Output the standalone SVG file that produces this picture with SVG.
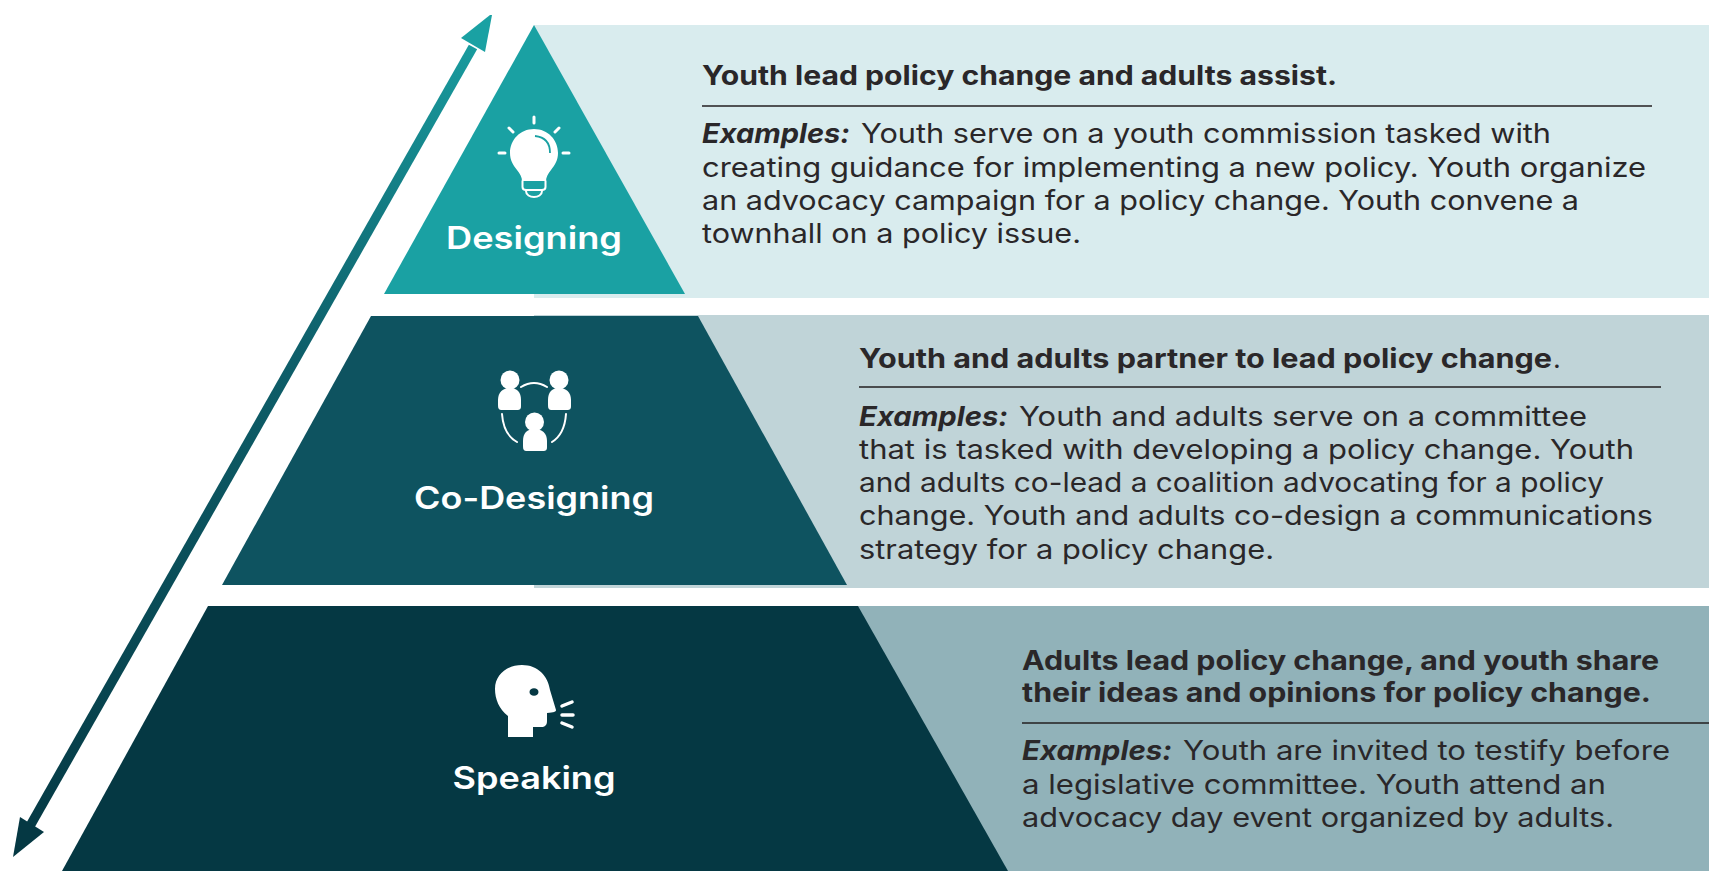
<svg xmlns="http://www.w3.org/2000/svg" width="1709" height="871" viewBox="0 0 1709 871">
<style>
text{font-family:Inter,"Liberation Sans",sans-serif;fill:#2a2729}
.h{font-size:26.500px;font-weight:700}
.b{font-size:27px;font-weight:400}
.e{font-size:27px;font-weight:700;font-style:italic}
.l{font-size:31px;font-weight:600;fill:#fff;text-anchor:middle}
.r{stroke:#231f20;stroke-width:1.5;fill:none}
.w{fill:#fff}
.ws{stroke:#fff;fill:none;stroke-linecap:round}
</style>
<defs>
<linearGradient id="ag" gradientUnits="userSpaceOnUse" x1="490" y1="15" x2="14" y2="855">
<stop offset="0" stop-color="#1aa1a3"/><stop offset=".4" stop-color="#0e5f6a"/><stop offset="1" stop-color="#053843"/>
</linearGradient>
</defs>
<rect width="1709" height="871" fill="#fff"/>
<g id="connectors">
<path d="M473 47L30 826" stroke="url(#ag)" stroke-width="9.500" fill="none"/>
<path d="M492 15L490 15L461 38L485 52Z" fill="#1aa1a3"/>
<path d="M13 857L20 817L44 832Z" fill="#053843"/>
</g>
<g id="designing">
<rect x="534" y="25" width="1175" height="273" fill="#d9ecee"/>
<path d="M534 25L685 294H384Z" fill="#1aa1a3"/>
<g>
<path d="M534 129C520 129 510 140 510 153C510 160 513 165 517 170C520 174 522 177 522 181H546C546 177 548 174 551 170C555 165 558 160 558 153C558 140 548 129 534 129Z" class="w"/>
<path d="M522.500 181V187C522.500 189 524 190 526 190H542C544 190 545.500 189 545.500 187V181" class="ws" stroke-width="2"/>
<path d="M526 190V191C526 199 542 199 542 191V190" class="ws" stroke-width="2"/>
<path d="M534 117V123M509 128L513 132M559 128L555 132M499 153H505M563 153H569" class="ws" stroke-width="3"/>
<path d="M535 136C545 137 550 143 550 153" stroke="#1aa1a3" stroke-width="1.800" fill="none"/>
</g>
<text class="l" x="534" y="249" textLength="176" lengthAdjust="spacingAndGlyphs">Designing</text>
<text class="h" x="702" y="85" textLength="635" lengthAdjust="spacingAndGlyphs">Youth lead policy change and adults assist.</text>
<path class="r" d="M702 106H1652"/>
<text class="e" x="702" y="143" textLength="148" lengthAdjust="spacingAndGlyphs">Examples:</text>
<text class="b" x="861" y="143" textLength="690" lengthAdjust="spacingAndGlyphs">Youth serve on a youth commission tasked with</text>
<text class="b" x="702" y="177" textLength="944" lengthAdjust="spacingAndGlyphs">creating guidance for implementing a new policy. Youth organize</text>
<text class="b" x="702" y="210" textLength="877" lengthAdjust="spacingAndGlyphs">an advocacy campaign for a policy change. Youth convene a</text>
<text class="b" x="702" y="243" textLength="379" lengthAdjust="spacingAndGlyphs">townhall on a policy issue.</text>
</g>
<g id="co-designing">
<rect x="534" y="315" width="1175" height="273" fill="#c0d4d8"/>
<path d="M371 316H698L847 585H222Z" fill="#0e5360"/>
<g>
<circle class="w" cx="510" cy="380" r="9.500"/><circle class="w" cx="559" cy="380" r="9.500"/><circle class="w" cx="534.500" cy="422" r="9.500"/>
<path class="w" d="M498 405V400C498 392 503 388 510 388C517 388 521 392 521 400V406C521 409 520 410 517 410H502C499 410 498 409 498 405Z"/>
<path class="w" d="M548 405V400C548 392 552 388 559 388C566 388 571 392 571 400V406C571 409 570 410 567 410H552C549 410 548 409 548 405Z"/>
<path class="w" d="M523 446V441C523 433 527 429 534.500 429C542 429 547 433 547 441V447C547 450 546 451 543 451H527C524 451 523 450 523 446Z"/>
<path class="ws" stroke-width="2" d="M521 387Q534 379 547 387M502 414C503 428 508 437 517 442M566 414C565 428 560 437 552 442"/>
</g>
<text class="l" x="534" y="509" textLength="240" lengthAdjust="spacingAndGlyphs">Co-Designing</text>
<text class="h" x="859" y="368" textLength="693" lengthAdjust="spacingAndGlyphs">Youth and adults partner to lead policy change</text>
<text class="b" x="1553" y="368">.</text>
<path class="r" d="M859 387H1661"/>
<text class="e" x="859" y="426" textLength="149" lengthAdjust="spacingAndGlyphs">Examples:</text>
<text class="b" x="1019" y="426" textLength="568" lengthAdjust="spacingAndGlyphs">Youth and adults serve on a committee</text>
<text class="b" x="859" y="459" textLength="775" lengthAdjust="spacingAndGlyphs">that is tasked with developing a policy change. Youth</text>
<text class="b" x="859" y="492" textLength="745" lengthAdjust="spacingAndGlyphs">and adults co-lead a coalition advocating for a policy</text>
<text class="b" x="859" y="525" textLength="794" lengthAdjust="spacingAndGlyphs">change. Youth and adults co-design a communications</text>
<text class="b" x="859" y="559" textLength="415" lengthAdjust="spacingAndGlyphs">strategy for a policy change.</text>
</g>
<g id="speaking">
<rect x="534" y="606" width="1175" height="265" fill="#91b2b9"/>
<path d="M208 606H858L1008 871H62Z" fill="#053843"/>
<g>
<path class="w" d="M508 737V716C499 709 495 699 495 689C495 674 508 665 522 665C538 665 548 676 550 690L556 710C556 712 554 712 547 713V721C547 725 545 727 541 727H533V737Z"/>
<ellipse cx="534" cy="692" rx="4.500" ry="3.800" fill="#053843"/>
<path class="ws" stroke-width="3.500" d="M562 706L572 702M562 715H573M562 723L572 727"/>
</g>
<text class="l" x="534" y="789" textLength="163" lengthAdjust="spacingAndGlyphs">Speaking</text>
<text class="h" x="1022" y="670" textLength="637" lengthAdjust="spacingAndGlyphs">Adults lead policy change, and youth share</text>
<text class="h" x="1022" y="702" textLength="629" lengthAdjust="spacingAndGlyphs">their ideas and opinions for policy change.</text>
<path class="r" d="M1022 723H1709"/>
<text class="e" x="1022" y="760" textLength="150" lengthAdjust="spacingAndGlyphs">Examples:</text>
<text class="b" x="1183" y="760" textLength="487" lengthAdjust="spacingAndGlyphs">Youth are invited to testify before</text>
<text class="b" x="1022" y="794" textLength="584" lengthAdjust="spacingAndGlyphs">a legislative committee. Youth attend an</text>
<text class="b" x="1022" y="827" textLength="592" lengthAdjust="spacingAndGlyphs">advocacy day event organized by adults.</text>
</g>
</svg>
